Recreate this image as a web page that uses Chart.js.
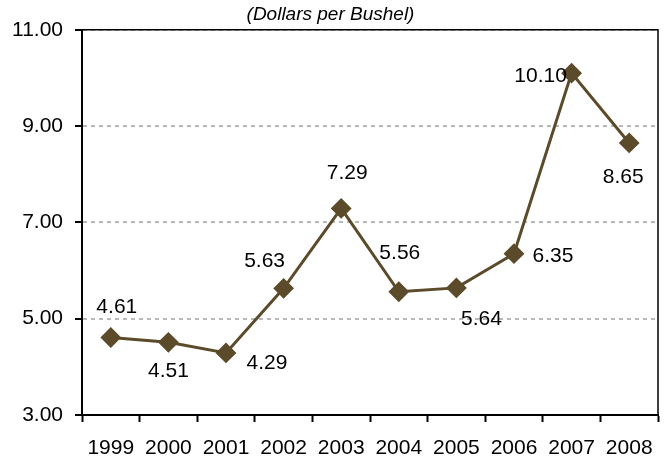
<!DOCTYPE html>
<html>
<head>
<meta charset="utf-8">
<script src="https://cdn.jsdelivr.net/npm/chart.js@4.4.1/dist/chart.umd.min.js"></script>
<style>
  html, body { margin: 0; padding: 0; background: #fff; overflow: hidden; }
  #wrap { width: 669px; height: 458px; position: relative; }
</style>
</head>
<body>
<div id="wrap"><canvas id="price"></canvas></div>
<script>
var years = ['1999', '2000', '2001', '2002', '2003', '2004', '2005', '2006', '2007', '2008'];
var prices = [4.61, 4.51, 4.29, 5.63, 7.29, 5.56, 5.64, 6.35, 10.10, 8.65];
var yTicks = [3, 5, 7, 9, 11];

// where each value label sits relative to its marker (px)
var labelDx = [6, 0, 41, -19, 6, 1, 25, 39, -31, -6];
var labelDy = [-30, 29, 10, -27, -35, -39, 31, 3, 3, 34];

var lineColor = '#5c4b2b';
var font = '"Liberation Sans", Arial, sans-serif';

var valueLabels = {
    id: 'valueLabels',
    afterDatasetsDraw: function (chart) {
        var ctx = chart.ctx;
        var meta = chart.getDatasetMeta(0);
        ctx.save();
        ctx.font = '21px ' + font;
        ctx.fillStyle = '#000';
        ctx.textAlign = 'center';
        ctx.textBaseline = 'middle';
        meta.data.forEach(function (pt, i) {
            ctx.fillText(prices[i].toFixed(2), pt.x + labelDx[i], pt.y + labelDy[i]);
        });
        ctx.restore();
    }
};

var boxBorder = {
    id: 'boxBorder',
    beforeDatasetsDraw: function (chart) {
        var a = chart.chartArea;
        var ctx = chart.ctx;
        ctx.save();
        ctx.strokeStyle = '#000';
        ctx.lineWidth = 1.5;
        ctx.beginPath();
        ctx.moveTo(a.left, a.top);
        ctx.lineTo(a.right, a.top);
        ctx.lineTo(a.right, a.bottom);
        ctx.stroke();
        ctx.restore();
    }
};

var ctx = document.getElementById('price').getContext('2d');
var myChart = new Chart(ctx, {
    type: 'line',
    data: {
        labels: years,
        datasets: [{
            label: 'Price',
            data: prices,
            borderColor: lineColor,
            backgroundColor: lineColor,
            borderWidth: 3,
            pointStyle: 'rectRot',
            pointRadius: 9,
            pointBorderWidth: 2,
            pointBackgroundColor: lineColor,
            pointBorderColor: lineColor,
            tension: 0
        }]
    },
    options: {
        responsive: true,
        maintainAspectRatio: false,
        animation: false,
        layout: { padding: { left: 0, right: 8, top: 0, bottom: 0 } },
        plugins: {
            legend: { display: false },
            tooltip: { enabled: false },
            title: {
                display: true,
                text: '(Dollars per Bushel)',
                color: '#000',
                font: { family: font, size: 19, style: 'italic', weight: 'normal' },
                padding: { top: 3, bottom: 4 }
            }
        },
        scales: {
            x: {
                offset: true,
                afterFit: function (scale) { scale.height = 43; },
                grid: {
                    offset: true,
                    drawOnChartArea: false,
                    tickLength: 7,
                    tickColor: '#000',
                    tickWidth: 2
                },
                border: { display: true, color: '#000', width: 2 },
                ticks: {
                    color: '#000',
                    padding: 14,
                    maxRotation: 0,
                    autoSkip: false,
                    font: { family: font, size: 21 }
                }
            },
            y: {
                min: 3,
                max: 11,
                afterFit: function (scale) { scale.width = 82; },
                afterBuildTicks: function (scale) {
                    scale.ticks = yTicks.map(function (v) { return { value: v }; });
                },
                grid: {
                    color: '#b8b8b8',
                    lineWidth: 2,
                    tickLength: 7,
                    tickColor: '#000',
                    tickWidth: 2,
                    tickBorderDash: []
                },
                border: { display: true, color: '#000', width: 2, dash: [4, 4] },
                ticks: {
                    color: '#000',
                    padding: 12,
                    font: { family: font, size: 21 },
                    callback: function (v) { return Number(v).toFixed(2); }
                }
            }
        }
    },
    plugins: [boxBorder, valueLabels]
});
</script>
</body>
</html>
